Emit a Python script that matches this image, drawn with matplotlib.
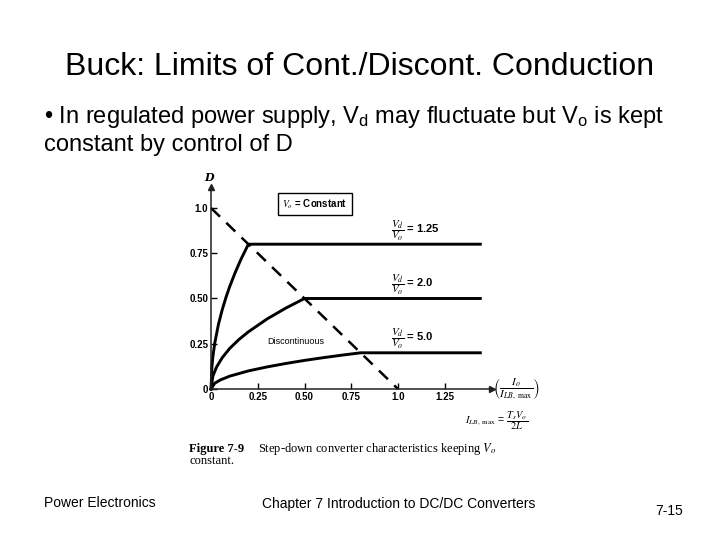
import matplotlib.pyplot as plt

plt.rcParams['font.family'] = ['Liberation Sans', 'DejaVu Sans']
plt.rcParams['mathtext.fontset'] = 'custom'
plt.rcParams['mathtext.rm'] = 'Liberation Sans'
plt.rcParams['mathtext.it'] = 'Liberation Sans:italic'
plt.rcParams['mathtext.bf'] = 'Liberation Sans:bold'

# D vs Io/ILB,max, for Vd/Vo = 1.25, 2.0, 5.0
x125 = [0, 0.005, 0.01, 0.02, 0.04, 0.06, 0.08, 0.10, 0.13, 0.16, 0.20, 1.44]
d125 = [0, 0.126, 0.179, 0.253, 0.358, 0.438, 0.506, 0.566, 0.645, 0.716, 0.80, 0.80]
x20 = [0, 0.01, 0.03, 0.06, 0.10, 0.15, 0.20, 0.30, 0.40, 0.50, 1.44]
d20 = [0, 0.071, 0.122, 0.173, 0.224, 0.274, 0.316, 0.387, 0.447, 0.50, 0.50]
x50 = [0, 0.02, 0.05, 0.10, 0.20, 0.30, 0.40, 0.50, 0.60, 0.70, 0.80, 1.44]
d50 = [0, 0.032, 0.050, 0.071, 0.100, 0.122, 0.141, 0.158, 0.173, 0.187, 0.20, 0.20]
# boundary continuous / discontinuous (dashed)
bx = [0, 1.0]
bd = [1.0, 0]

ratio_labels = ['1.25', '2.0', '5.0']
ratio_y = [0.873, 0.575, 0.276]
xticks = [0, 0.25, 0.5, 0.75, 1.0, 1.25]
xtick_labels = ['0', '0.25', '0.50', '0.75', '1.0', '1.25']
yticks = [0, 0.25, 0.5, 0.75, 1.0]
ytick_labels = ['0', '0.25', '0.50', '0.75', '1.0']

fig = plt.figure(figsize=(7.2, 5.4), dpi=100)
ax = fig.add_axes([211/720, 1-389/540, 280.5/720, 202/540])
ax.set_xlim(0, 1.5)
ax.set_ylim(0, 1.116)

for sp in ['top', 'right']:
    ax.spines[sp].set_visible(False)
for sp in ['left', 'bottom']:
    ax.spines[sp].set_linewidth(1.1)
    ax.spines[sp].set_color('#222222')
ax.plot(1, 0, '>', color='#222222', ms=5, transform=ax.get_yaxis_transform(), clip_on=False)
ax.plot(0, 1, '^', color='#222222', ms=5, transform=ax.get_xaxis_transform(), clip_on=False)

ax.plot(x125, d125, color='black', lw=2.1, clip_on=False)
ax.plot(x20, d20, color='black', lw=2.1, clip_on=False)
ax.plot(x50, d50, color='black', lw=2.1, clip_on=False)
ax.plot(bx, bd, color='black', lw=1.8, dashes=(5, 3.5), clip_on=False)

ax.set_xticks(xticks)
ax.set_xticklabels(xtick_labels)
ax.set_yticks(yticks)
ax.set_yticklabels(ytick_labels)
ax.tick_params(direction='in', length=4, width=1, pad=2, labelsize=7)
for lab in ax.get_xticklabels() + ax.get_yticklabels():
    lab.set_fontweight('bold')

ax.text(-0.01, 1.17, 'D', ha='center', va='center', fontsize=8, style='italic',
        fontweight='bold', family='DejaVu Serif', clip_on=False)

ax.text(0.555, 1.022, r'$V_o$ = Constant', ha='center', va='center', fontsize=7,
        fontweight='bold', math_fontfamily='stix',
        bbox=dict(boxstyle='square,pad=0.45', fc='white', ec='black', lw=1))

for lab, y in zip(ratio_labels, ratio_y):
    ax.text(0.965, y, r'$\dfrac{V_d}{V_o}$ = ' + lab, ha='left', va='center', fontsize=8,
            fontweight='bold', math_fontfamily='stix')

ax.text(0.455, 0.265, 'Discontinuous', ha='center', va='center', fontsize=6.5)

ax.text(1.508, 0.0, r'$\left(\dfrac{I_o}{I_{LB,\ \mathrm{max}}}\right)$', ha='left', va='center',
        fontsize=8, math_fontfamily='stix', clip_on=False)
ax.text(1.36, -0.175, r'$I_{LB,\ \mathrm{max}}$ = $\dfrac{T_s V_o}{2L}$', ha='left', va='center',
        fontsize=7.5, math_fontfamily='stix', clip_on=False)

# caption of the book figure
fig.text(189/720, 1-449/540, 'Figure 7-9', fontsize=9, fontweight='bold',
         family='Liberation Serif', va='center')
fig.text(258/720, 1-449/540, r'Step-down converter characteristics keeping $V_o$', fontsize=9,
         family='Liberation Serif', math_fontfamily='stix', va='center')
fig.text(189/720, 1-461/540, 'constant.', fontsize=9, family='Liberation Serif', va='center')

# slide text
fig.text(0.5, 1-67/540, 'Buck: Limits of Cont./Discont. Conduction', ha='center', va='center',
         fontsize=23)
fig.text(44/720, 1-117/540, r'• In regulated power supply, $\mathrm{V_d}$ may fluctuate but $\mathrm{V_o}$ is kept',
         va='center', fontsize=17)
fig.text(44/720, 1-145/540, 'constant by control of D', va='center', fontsize=17)

fig.text(44/720, 1-503/540, 'Power Electronics', va='center', fontsize=10)
fig.text(262/720, 1-504/540, 'Chapter 7 Introduction to DC/DC Converters', va='center', fontsize=10)
fig.text(655/720, 1-511/540, '7-15', va='center', fontsize=10)

fig.savefig('out.png', dpi=100)
